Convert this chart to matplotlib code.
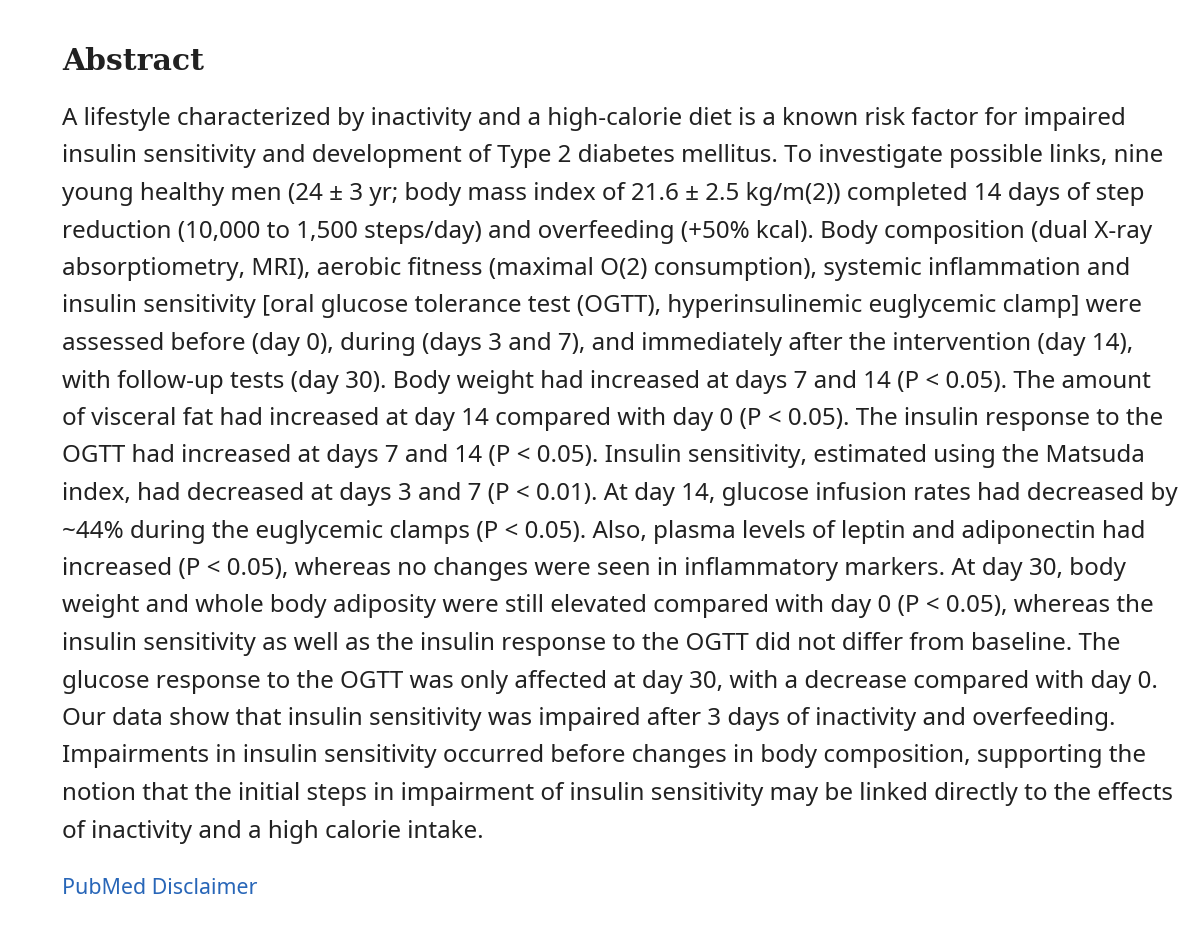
import matplotlib
matplotlib.use("Agg")
import matplotlib.pyplot as plt

title = "Abstract"
lines = [
"A lifestyle characterized by inactivity and a high-calorie diet is a known risk factor for impaired",
"insulin sensitivity and development of Type 2 diabetes mellitus. To investigate possible links, nine",
"young healthy men (24 ± 3 yr; body mass index of 21.6 ± 2.5 kg/m(2)) completed 14 days of step",
"reduction (10,000 to 1,500 steps/day) and overfeeding (+50% kcal). Body composition (dual X-ray",
"absorptiometry, MRI), aerobic fitness (maximal O(2) consumption), systemic inflammation and",
"insulin sensitivity [oral glucose tolerance test (OGTT), hyperinsulinemic euglycemic clamp] were",
"assessed before (day 0), during (days 3 and 7), and immediately after the intervention (day 14),",
"with follow-up tests (day 30). Body weight had increased at days 7 and 14 (P < 0.05). The amount",
"of visceral fat had increased at day 14 compared with day 0 (P < 0.05). The insulin response to the",
"OGTT had increased at days 7 and 14 (P < 0.05). Insulin sensitivity, estimated using the Matsuda",
"index, had decreased at days 3 and 7 (P < 0.01). At day 14, glucose infusion rates had decreased by",
"~44% during the euglycemic clamps (P < 0.05). Also, plasma levels of leptin and adiponectin had",
"increased (P < 0.05), whereas no changes were seen in inflammatory markers. At day 30, body",
"weight and whole body adiposity were still elevated compared with day 0 (P < 0.05), whereas the",
"insulin sensitivity as well as the insulin response to the OGTT did not differ from baseline. The",
"glucose response to the OGTT was only affected at day 30, with a decrease compared with day 0.",
"Our data show that insulin sensitivity was impaired after 3 days of inactivity and overfeeding.",
"Impairments in insulin sensitivity occurred before changes in body composition, supporting the",
"notion that the initial steps in impairment of insulin sensitivity may be linked directly to the effects",
"of inactivity and a high calorie intake.",
]
link = "PubMed Disclaimer"

W, H = 1200, 932
fig = plt.figure(figsize=(W/100, H/100), dpi=100)
fig.patch.set_facecolor("white")
ax = fig.add_axes([0, 0, 1, 1])
ax.set_xlim(0, W); ax.set_ylim(H, 0); ax.axis("off")

ax.text(62, 61, title, fontsize=21.5, fontweight="bold", family="DejaVu Serif",
        color="#212121", va="center", ha="left")
y0, dy = 119, 37.5
for i, s in enumerate(lines):
    ax.text(62, y0 + i*dy, s, fontsize=17.4, family="Noto Sans", color="#212121",
            va="center", ha="left")
ax.text(62, 889, link, fontsize=15.4, family="Noto Sans", color="#2866b8",
        va="center", ha="left")
fig.savefig("out.png", dpi=100)
